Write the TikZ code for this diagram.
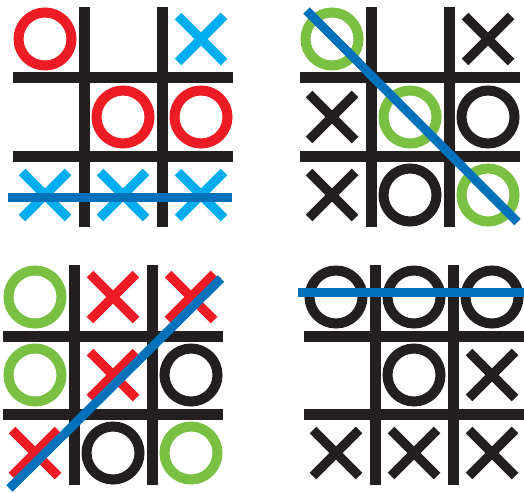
\documentclass[tikz,border=0pt]{standalone}
\definecolor{tttred}{HTML}{ED1C24}
\definecolor{tttcyan}{HTML}{00AEEF}
\definecolor{tttgreen}{HTML}{7AC143}
\definecolor{tttblack}{HTML}{231F20}
\definecolor{tttblue}{HTML}{0072BC}
% cell (c,r) of a board: centre at (78c-46, 78r-46)
\newcommand\tttgrid{%
  \foreach \p in {71,149} {
    \draw[gridline] (\p,0) -- (\p,220);
    \draw[gridline] (0,\p) -- (220,\p);
  }}
\newcommand\tttrings[1]{%
  \foreach \c/\r/\col in {#1}
    \draw[ring=\col] (78*\c-46,78*\r-46) circle[radius=26.5pt];}
\newcommand\tttcrosses[1]{%
  \foreach \c/\r/\col in {#1}
    \draw[cross=\col] (78*\c-69,78*\r-69) -- (78*\c-23,78*\r-23)
      (78*\c-69,78*\r-23) -- (78*\c-23,78*\r-69);}

\begin{document}
\begin{tikzpicture}[
  x=1pt, y=-1pt,
  gridline/.style={line width=11pt,tttblack},
  ring/.style={line width=10pt,draw=#1},
  cross/.style={line width=9.5pt,draw=#1},
  winline/.style={line width=9pt,tttblue}
]
  \useasboundingbox (0,0) rectangle (524,492);

  % top left: X wins on the bottom row
  \begin{scope}[shift={(13,7)}]
    \tttgrid
    \tttrings{1/1/tttred,2/2/tttred,3/2/tttred}
    \tttcrosses{3/1/tttcyan,1/3/tttcyan,2/3/tttcyan,3/3/tttcyan}
    \draw[winline] (-5,190) -- (219,190);
  \end{scope}

  % top right: O wins on the diagonal
  \begin{scope}[shift={(300,7)}]
    \tttgrid
    \tttrings{1/1/tttgreen,2/2/tttgreen,3/3/tttgreen,3/2/tttblack,2/3/tttblack}
    \tttcrosses{3/1/tttblack,1/2/tttblack,1/3/tttblack}
    \draw[winline] (6.5,3.5) -- (217.5,215);
  \end{scope}

  % bottom left
  \begin{scope}[shift={(3,265)}]
    \tttgrid
    \tttrings{1/1/tttgreen,1/2/tttgreen,3/3/tttgreen,3/2/tttblack,2/3/tttblack}
    \tttcrosses{2/1/tttred,3/1/tttred,2/2/tttred,1/3/tttred}
    \draw[winline] (218,13.5) -- (6.5,223.5);
  \end{scope}

  % bottom right: O wins on the top row
  \begin{scope}[shift={(304,265)}]
    \tttgrid
    \tttrings{1/1/tttblack,2/1/tttblack,3/1/tttblack,2/2/tttblack}
    \tttcrosses{3/2/tttblack,1/3/tttblack,2/3/tttblack,3/3/tttblack}
    \draw[winline] (-6,27) -- (220,27);
  \end{scope}
\end{tikzpicture}
\end{document}
